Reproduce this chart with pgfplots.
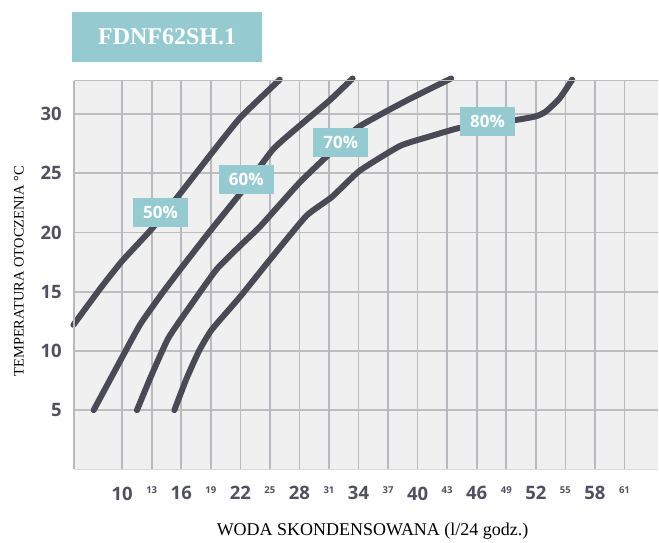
\documentclass[border=0pt]{standalone}
\usepackage{fontspec}
\setmainfont{Liberation Serif}
\newfontfamily\osans{Open Sans}
\usepackage{pgfplots}
\pgfplotsset{compat=1.18}
\definecolor{bgc}{HTML}{F0F0F0}
\definecolor{majc}{HTML}{B9B9BD}
\definecolor{minc}{HTML}{DADADC}
\definecolor{hgc}{HTML}{BDBDC0}
\definecolor{tealc}{HTML}{96CAD1}
\definecolor{curvec}{HTML}{4A4A56}
\definecolor{tickc}{HTML}{50505E}
\begin{document}
\begin{tikzpicture}
\begin{axis}[
  at={(0pt,0pt)}, anchor=south west,
  scale only axis, width=585pt, height=389.3pt,
  xmin=5.1, xmax=64.43, ymin=0, ymax=32.82,
  clip=false,
  axis background/.style={fill=bgc},
  axis line style={draw=none},
  major tick length=0pt, tick style={draw=none},
  xtick={10,16,...,58}, ytick={5,10,...,30},
  xmajorgrids, ymajorgrids,
  x grid style={draw=majc, line width=1.6pt},
  y grid style={draw=hgc, line width=1.6pt},
  extra x ticks={13,19,...,61},
  extra x tick style={grid=major, major grid style={draw=minc, line width=1.6pt},
     xticklabel style={font=\osans\bfseries\fontsize{9.5}{10}\selectfont}},
  /pgf/number format/assume math mode=true,
  ticklabel style={text=tickc},
  xticklabel style={font=\osans\bfseries\fontsize{18.5}{20}\selectfont, anchor=north, inner sep=0pt, yshift=-17pt},
  yticklabel style={font=\osans\bfseries\fontsize{18.5}{20}\selectfont, anchor=east, inner sep=0pt, xshift=-12pt},
  cv/.style={curvec, no markers, line width=6pt, line cap=round, line join=round, smooth, tension=0.3},
]
% 50%
\addplot[cv] coordinates {(5.05,12.2) (7.8,15.3) (10,17.6) (13,20.3) (16,23.4) (19,26.6) (22,29.7) (26,32.9)};
% 60%
\addplot[cv] coordinates {(7.1,5) (9.5,8.7) (11.8,12.2) (14,14.8) (16,17) (19,20.2) (22,23.3) (25.3,27) (28,29) (31,31.1) (33.4,33)};
% 70%
\addplot[cv] coordinates {(11.5,5) (13,8) (14.7,11.1) (17,13.9) (19.6,16.9) (22,18.9) (24,20.5) (28,24.2) (31,26.6) (34,28.9) (38.8,31.1) (43.4,33)};
% 80%
\addplot[cv] coordinates {(15.3,5) (16.5,7.6) (17.8,10) (19.1,11.8) (22,14.6) (25,17.7) (28.7,21.4) (31.3,23) (34.1,25.2) (38.2,27.3) (41.2,28.1) (44.1,28.8) (47,29.2) (50,29.5) (52,29.8) (53,30.2) (54.4,31.3) (55.7,32.9)};
\tikzset{lbl/.style={fill=tealc, text=white, font=\osans\bfseries\fontsize{17}{18}\selectfont, minimum width=55pt, minimum height=29pt, inner sep=0pt}}
\node[lbl] at (axis cs:13.9,21.7) {50\%};
\node[lbl] at (axis cs:22.6,24.5) {60\%};
\node[lbl] at (axis cs:32.2,27.6) {70\%};
\node[lbl] at (axis cs:47.1,29.4) {80\%};
\draw[hgc, line width=1.6pt] (rel axis cs:0,1) -- (rel axis cs:1,1);
\draw[majc, line width=1.6pt] (rel axis cs:0,0) -- (rel axis cs:0,1);
\draw[minc, line width=1.6pt] (rel axis cs:0,0) -- (rel axis cs:1,0);
\end{axis}
\fill[tealc] (-1.7pt,408.3pt) rectangle (188.3pt,457.7pt);
\node[text=white, font=\bfseries\fontsize{24}{26}\selectfont] at (93.3pt,433pt) {FDNF62SH.1};
\node[font=\fontsize{18}{20}\selectfont, text=black] at (299pt,-61.7pt) {WODA SKONDENSOWANA (l/24 godz.)};
\node[font=\fontsize{14.5}{16}\selectfont, text=black, rotate=90] at (-55pt,198.5pt) {TEMPERATURA OTOCZENIA °C};
\path (-74pt,-72pt) rectangle (585pt,470pt);
\end{tikzpicture}
\end{document}
